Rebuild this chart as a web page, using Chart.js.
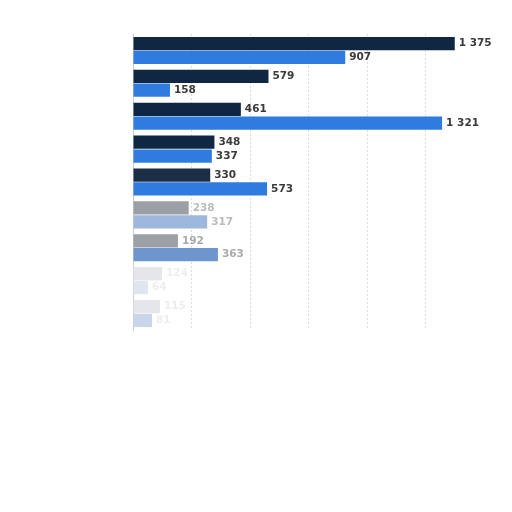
<!DOCTYPE html>
<html>
<head>
<meta charset="utf-8">
<script src="https://cdn.jsdelivr.net/npm/chart.js@4.4.0/dist/chart.umd.min.js"></script>
<style>
  html, body { margin: 0; padding: 0; background: #fff; }
  #wrap { width: 512px; height: 512px; }
</style>
</head>
<body>
<div id="wrap"><canvas id="chart"></canvas></div>
<script>
// category labels are not visible in the source picture
const categories = ['', '', '', '', '', '', '', '', ''];
const seriesDark = [1375, 579, 461, 348, 330, 238, 192, 124, 115];
const seriesBlue = [907, 158, 1321, 337, 573, 317, 363, 64, 81];

// lower rows fade out in the reference
const darkColors = ['#0f2743', '#0f2743', '#0f2743', '#0f2743', '#1b2e45', '#9aa0a6', '#9aa0a6', '#e4e6e9', '#e4e6e9'];
const blueColors = ['#2f7be0', '#2f7be0', '#2f7be0', '#2f7be0', '#2f7be0', '#9db8dc', '#6f95cf', '#dfe6f0', '#c9d6ea'];
const labelColors = ['#3a3a3a', '#3a3a3a', '#3a3a3a', '#3a3a3a', '#3a3a3a', '#bbb', '#aaa', '#eee', '#eee'];

const fmt = v => v.toLocaleString('en-US').replace(/,/g, ' ');

const valueLabels = {
  id: 'valueLabels',
  afterDatasetsDraw(chart) {
    const ctx = chart.ctx;
    ctx.save();
    ctx.font = 'bold 10.5px "DejaVu Sans", sans-serif';
    ctx.textBaseline = 'middle';
    chart.data.datasets.forEach((ds, di) => {
      chart.getDatasetMeta(di).data.forEach((bar, i) => {
        ctx.fillStyle = labelColors[i];
        ctx.fillText(fmt(ds.data[i]), bar.x + 4, bar.y);
      });
    });
    ctx.restore();
  }
};

new Chart(document.getElementById('chart'), {
  type: 'bar',
  data: {
    labels: categories,
    datasets: [
      { label: 'A', data: seriesDark, backgroundColor: darkColors },
      { label: 'B', data: seriesBlue, backgroundColor: blueColors }
    ]
  },
  options: {
    indexAxis: 'y',
    responsive: true,
    maintainAspectRatio: false,
    animation: false,
    categoryPercentage: 0.84,
    barPercentage: 0.96,
    layout: { padding: { left: 133, top: 34, right: 28, bottom: 182 } },
    plugins: {
      legend: { display: false },
      tooltip: { enabled: false }
    },
    scales: {
      x: {
        min: 0,
        max: 1500,
        ticks: { display: false, stepSize: 250 },
        border: { display: false, dash: [2, 2] },
        grid: {
          color: c => (c.tick && c.tick.value === 1500) ? 'rgba(0,0,0,0)' : '#dcdcdc',
          lineWidth: 1,
          tickLength: 0
        }
      },
      y: {
        ticks: { display: false },
        border: { display: true, color: '#ccc' },
        grid: { display: false, tickLength: 0 },
        afterFit(scale) { scale.width = 0; }
      }
    }
  },
  plugins: [valueLabels]
});
</script>
</body>
</html>
